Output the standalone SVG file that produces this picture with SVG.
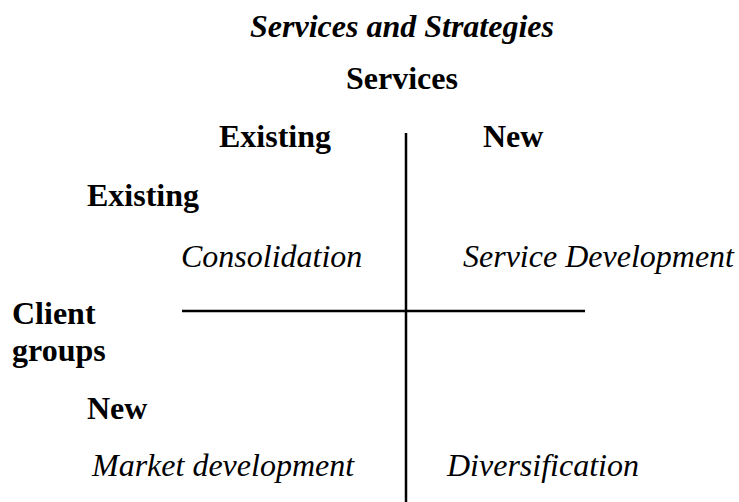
<svg xmlns="http://www.w3.org/2000/svg" width="739" height="502" viewBox="0 0 739 502">
  <style>
    text { font-family: "Liberation Serif", "Times New Roman", serif; font-size: 32px; fill: #000; }
    .b { font-weight: bold; }
    .i { font-style: italic; }
    .axis { stroke: #000; stroke-width: 2.5; fill: none; }
  </style>
  <rect width="739" height="502" fill="#fff"/>

  <g id="title">
    <text class="b i" x="402" y="37" text-anchor="middle">Services and Strategies</text>
  </g>
  <g id="services-axis-label">
    <text class="b" x="402" y="89" text-anchor="middle">Services</text>
  </g>
  <g id="col-existing">
    <text class="b" x="219" y="147">Existing</text>
  </g>
  <g id="col-new">
    <text class="b" x="483" y="147">New</text>
  </g>
  <g id="row-existing">
    <text class="b" x="87" y="206">Existing</text>
  </g>
  <g id="client-groups-label">
    <text class="b" x="12" y="324">Client</text>
    <text class="b" x="12" y="361">groups</text>
  </g>
  <g id="row-new">
    <text class="b" x="87" y="419">New</text>
  </g>

  <g id="consolidation">
    <text class="i" x="181" y="267">Consolidation</text>
  </g>
  <g id="service-development">
    <text class="i" x="463" y="267">Service Development</text>
  </g>
  <g id="market-development">
    <text class="i" x="92" y="476">Market development</text>
  </g>
  <g id="diversification">
    <text class="i" x="447" y="476">Diversification</text>
  </g>

  <g id="connectors">
    <line class="axis" x1="406" y1="133" x2="406" y2="502"/>
    <line class="axis" x1="182" y1="311" x2="585" y2="311"/>
  </g>
</svg>
